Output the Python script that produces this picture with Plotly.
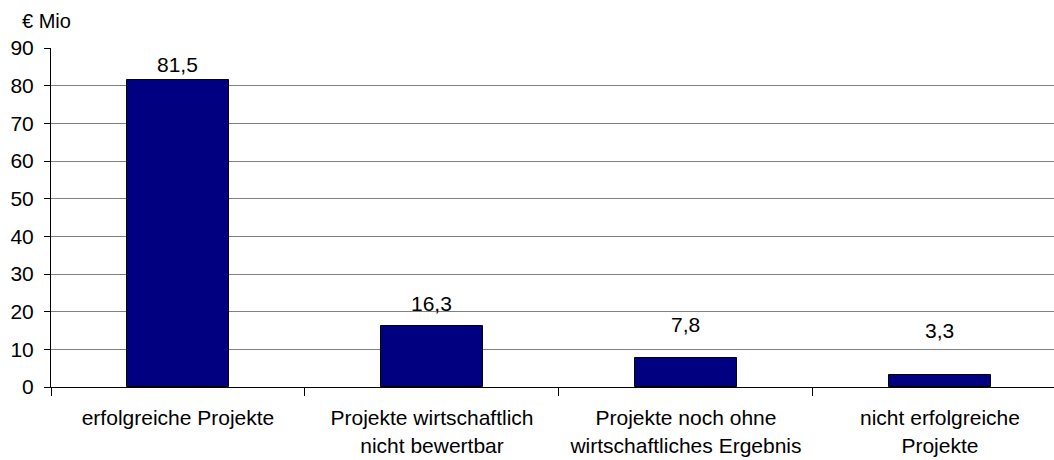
import plotly.graph_objects as go

categories = [
    "erfolgreiche Projekte",
    "Projekte wirtschaftlich<br>nicht bewertbar",
    "Projekte noch ohne<br>wirtschaftliches Ergebnis",
    "nicht erfolgreiche<br>Projekte",
]
values = [81.5, 16.3, 7.8, 3.3]
y_ticks = [0, 10, 20, 30, 40, 50, 60, 70, 80, 90]

# style: vertical pixel offset of each data label above its bar
label_shift_px = [2, 9, 20, 31]

FONT = "Liberation Sans, Arial, sans-serif"

fig = go.Figure(
    go.Bar(
        x=categories,
        y=values,
        width=0.405,
        marker=dict(color="#000080", line=dict(color="#000000", width=1)),
        cliponaxis=False,
    )
)

for c, v, s in zip(categories, values, label_shift_px):
    fig.add_annotation(
        x=c, y=v,
        text=f"{v:.1f}".replace(".", ","),
        showarrow=False,
        xanchor="center", yanchor="bottom",
        yshift=s,
        font=dict(family=FONT, size=21, color="#000000"),
    )

fig.update_layout(
    width=1054,
    height=460,
    margin=dict(l=51, r=0, t=48, b=73),
    paper_bgcolor="white",
    plot_bgcolor="white",
    showlegend=False,
    font=dict(family=FONT, size=20, color="#000000"),
    bargap=0,
)

fig.update_xaxes(
    type="category",
    range=[-0.5, 3.449],
    showline=True,
    linecolor="#000000",
    linewidth=1,
    ticks="outside",
    tickson="boundaries",
    ticklen=8,
    tickcolor="#000000",
    showgrid=False,
    ticklabelstandoff=12,
    tickfont=dict(family=FONT, size=21, color="#000000"),
)

fig.update_yaxes(
    range=[0, 90],
    tickvals=y_ticks,
    showline=True,
    linecolor="#000000",
    linewidth=1,
    ticks="outside",
    ticklen=6,
    tickcolor="#000000",
    showgrid=True,
    gridcolor="#808080",
    gridwidth=1,
    zeroline=False,
    ticklabelstandoff=6,
    tickfont=dict(family=FONT, size=21, color="#000000"),
)

fig.add_annotation(
    text="€ Mio",
    xref="paper", yref="paper",
    x=0, y=1,
    xshift=-31, yshift=14,
    xanchor="left", yanchor="bottom",
    showarrow=False,
    font=dict(family=FONT, size=20, color="#000000"),
)

fig.write_html("out.html")
